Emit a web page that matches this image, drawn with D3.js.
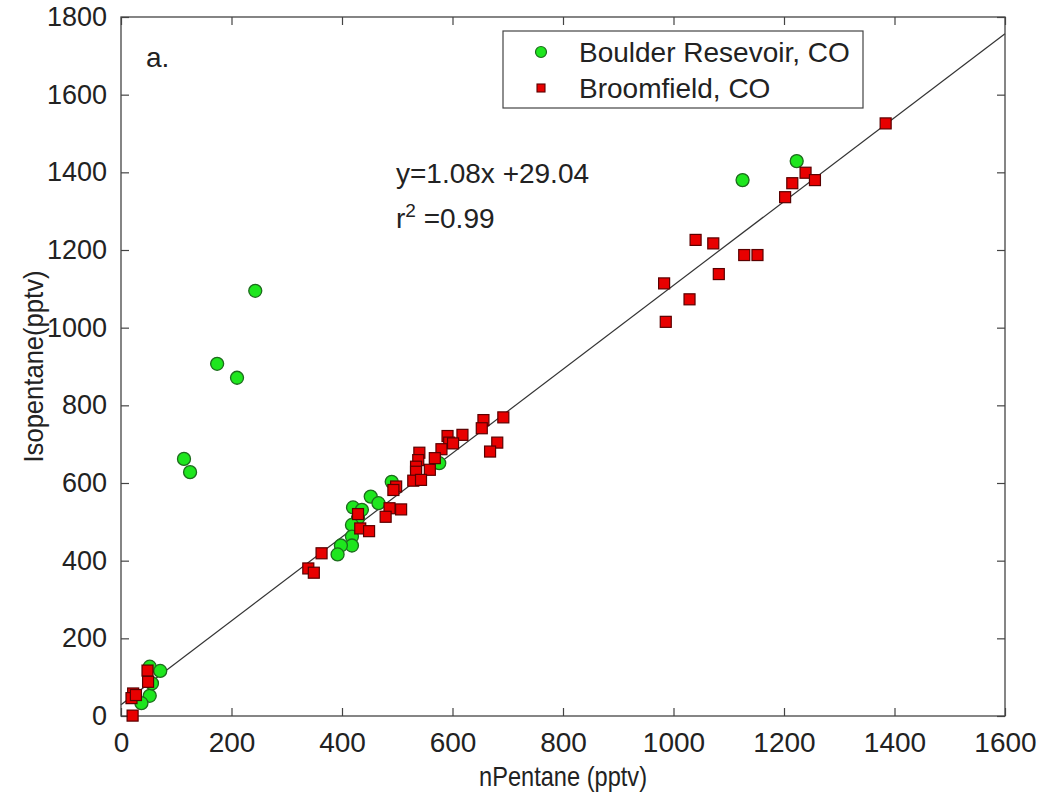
<!DOCTYPE html>
<html>
<head>
<meta charset="utf-8">
<script src="https://cdn.jsdelivr.net/npm/d3@7"></script>
<style>
  html, body { margin: 0; padding: 0; background: #fff; }
  svg text { font-family: "Liberation Sans", Arial, Helvetica, sans-serif; fill: #222; }
</style>
</head>
<body>
<svg id="chart" width="1043" height="796"></svg>
<script>
// ---- Data ----
const boulderX = [1223, 1125, 243, 174, 210, 114, 125, 576, 490, 452, 466, 420, 436, 429, 418, 418, 418, 398, 392, 52, 71, 52, 37, 56];
const boulderY = [1429, 1380, 1095, 907, 871, 662, 628, 651, 603, 565, 548, 537, 531, 509, 492, 462, 439, 439, 416, 127, 116, 52, 33, 84];

const broomX = [1384, 1239, 1256, 1215, 1202, 1040, 1072, 1128, 1152, 1082, 983, 1029, 986,
  692, 656, 653, 681, 668, 618, 591, 594, 601, 580, 568, 540, 538, 534, 534, 559, 529, 543,
  498, 493, 507, 486, 479, 429, 433, 449, 363, 339, 349, 48, 49, 22, 19, 27, 21];
const broomY = [1526, 1399, 1380, 1372, 1336, 1226, 1217, 1187, 1187, 1138, 1114, 1073, 1015,
  769, 762, 741, 704, 681, 724, 721, 704, 702, 687, 664, 678, 659, 642, 629, 634, 606, 608,
  591, 582, 532, 535, 513, 520, 483, 476, 419, 380, 369, 117, 88, 58, 46, 54, 1];

const xTicks = [0, 200, 400, 600, 800, 1000, 1200, 1400, 1600];
const yTicks = [0, 200, 400, 600, 800, 1000, 1200, 1400, 1600, 1800];
const fitSlope = 1.08, fitIntercept = 29.04;
const seriesNames = ["Boulder Resevoir, CO", "Broomfield, CO"];

// ---- Layout ----
const svg = d3.select("#chart");
const L = 121, R = 1005, T = 17, B = 716;
const x = d3.scaleLinear().domain([0, 1600]).range([L, R]);
const y = d3.scaleLinear().domain([0, 1800]).range([B, T]);
const axisColor = "#444";
const fontSize = 28;

// Fit line
svg.append("line")
  .attr("x1", x(0)).attr("y1", y(fitIntercept))
  .attr("x2", x(1600)).attr("y2", y(fitSlope * 1600 + fitIntercept))
  .attr("stroke", "#333").attr("stroke-width", 1.2);

// Axes
const tickLen = 8;
const gx = svg.append("g").attr("transform", `translate(0,${B})`)
  .call(d3.axisBottom(x).tickValues(xTicks).tickSize(-tickLen).tickPadding(16).tickFormat(d3.format("d")));
const gxTop = svg.append("g").attr("transform", `translate(0,${T})`)
  .call(d3.axisTop(x).tickValues(xTicks).tickSize(-tickLen).tickFormat(""));
const gy = svg.append("g").attr("transform", `translate(${L},0)`)
  .call(d3.axisLeft(y).tickValues(yTicks).tickSize(-tickLen).tickPadding(14).tickFormat(d3.format("d")));
const gyR = svg.append("g").attr("transform", `translate(${R},0)`)
  .call(d3.axisRight(y).tickValues(yTicks).tickSize(-tickLen).tickFormat(""));

[gx, gxTop, gy, gyR].forEach(g => {
  g.selectAll("path.domain").remove();
  g.selectAll(".tick line").attr("stroke", axisColor).attr("stroke-width", 1.2);
  g.selectAll("text").attr("font-size", fontSize).attr("fill", "#222")
    .attr("font-family", '"Liberation Sans", Arial, sans-serif');
});
gy.selectAll("text").attr("font-size", 27);

// Box
svg.append("rect").attr("x", L).attr("y", T).attr("width", R - L).attr("height", B - T)
  .attr("fill", "none").attr("stroke", axisColor).attr("stroke-width", 1.3);

// Points
const sq = 11;
svg.append("g").selectAll("circle").data(d3.range(boulderX.length)).join("circle")
  .attr("cx", i => x(boulderX[i])).attr("cy", i => y(boulderY[i])).attr("r", 6.5)
  .attr("fill", "#1ee61e").attr("stroke", "#1d6b1d").attr("stroke-width", 1.3);
svg.append("g").selectAll("rect").data(d3.range(broomX.length)).join("rect")
  .attr("x", i => x(broomX[i]) - sq / 2).attr("y", i => y(broomY[i]) - sq / 2)
  .attr("width", sq).attr("height", sq)
  .attr("fill", "#e80000").attr("stroke", "#5a0000").attr("stroke-width", 1.2);

// Annotation text
svg.append("text").attr("x", 146).attr("y", 67).attr("font-size", fontSize).text("a.");
svg.append("text").attr("x", 396).attr("y", 183).attr("font-size", fontSize).text("y=1.08x +29.04");
const r2 = svg.append("text").attr("x", 396).attr("y", 228).attr("font-size", fontSize);
r2.append("tspan").text("r");
r2.append("tspan").attr("dy", -11).attr("font-size", 19).text("2");
r2.append("tspan").attr("dy", 11).text(" =0.99");

// Legend
const lg = svg.append("g");
lg.append("rect").attr("x", 503).attr("y", 31).attr("width", 360).attr("height", 77)
  .attr("fill", "#fff").attr("stroke", axisColor).attr("stroke-width", 1.2);
lg.append("circle").attr("cx", 541).attr("cy", 52).attr("r", 5.5)
  .attr("fill", "#1ee61e").attr("stroke", "#1d6b1d").attr("stroke-width", 1.2);
lg.append("rect").attr("x", 537).attr("y", 84).attr("width", 8).attr("height", 8)
  .attr("fill", "#e80000").attr("stroke", "#5a0000").attr("stroke-width", 1.1);
lg.append("text").attr("x", 579).attr("y", 62).attr("font-size", fontSize).text(seriesNames[0]);
lg.append("text").attr("x", 579).attr("y", 98).attr("font-size", fontSize).text(seriesNames[1]);

// Axis titles (condensed like the reference)
svg.append("text").attr("x", (L + R) / 2).attr("y", 786).attr("text-anchor", "middle")
  .attr("font-size", fontSize).attr("textLength", 168).attr("lengthAdjust", "spacingAndGlyphs")
  .text("nPentane (pptv)");
svg.append("text").attr("transform", `translate(43,${(T + B) / 2}) rotate(-90)`)
  .attr("text-anchor", "middle").attr("font-size", fontSize)
  .attr("textLength", 192).attr("lengthAdjust", "spacingAndGlyphs")
  .text("Isopentane(pptv)");
</script>
</body>
</html>
